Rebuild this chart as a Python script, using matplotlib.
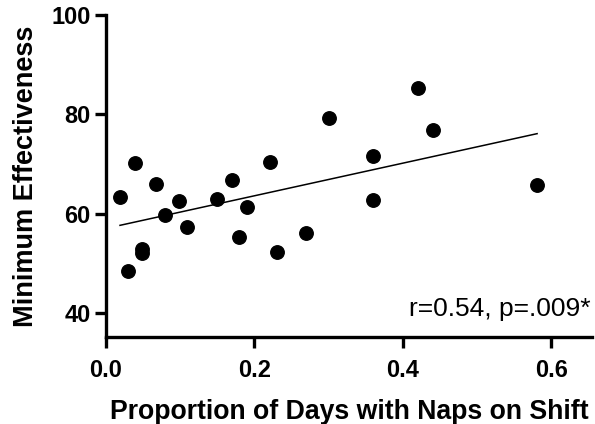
import numpy as np
import matplotlib
matplotlib.use('Agg')
from matplotlib import pyplot as plt

## data
naps = [0.019, 0.030, 0.039, 0.049, 0.049, 0.068, 0.079, 0.099, 0.109, 0.150, 0.170,
        0.180, 0.190, 0.221, 0.230, 0.270, 0.300, 0.360, 0.360, 0.421, 0.441, 0.581]
effectiveness = [63.4, 48.4, 70.3, 53.0, 52.2, 66.0, 59.8, 62.6, 57.3, 63.0, 66.7,
                 55.4, 61.3, 70.5, 52.3, 56.1, 79.2, 71.7, 62.7, 85.3, 76.9, 65.8]
xticks = [0.0, 0.2, 0.4, 0.6]
yticks = [40, 60, 80, 100]
stat_text = 'r=0.54, p=.009*'

plt.rcParams['font.family'] = ['Liberation Sans', 'DejaVu Sans']

fig = plt.figure(figsize=(5.95, 4.24), dpi=100)
ax = fig.add_axes([0.178, 0.205, 0.817, 0.76])

ax.plot(naps, effectiveness, 'o', color='black', markersize=9.7, zorder=3)

## least squares line over the range of the data
slope, icept = np.polyfit(naps, effectiveness, 1)
xfit = np.array([min(naps), max(naps)])
ax.plot(xfit, slope*xfit + icept, '-', color='black', lw=1.1)

ax.set_xlim(0, 0.655)
ax.set_ylim(35.2, 100)
ax.set_xticks(xticks)
ax.set_xticklabels(['{:.1f}'.format(t) for t in xticks])
ax.set_yticks(yticks)

for side in ['top', 'right']:
    ax.spines[side].set_visible(False)
for side in ['left', 'bottom']:
    ax.spines[side].set_linewidth(2.4)
ax.spines['left'].set_bounds(35.2, 100)

ax.tick_params(axis='both', width=2.4, length=8, labelsize=17)
ax.tick_params(axis='x', pad=8)
ax.tick_params(axis='y', pad=3)
for lab in ax.get_xticklabels() + ax.get_yticklabels():
    lab.set_fontweight('bold')

ax.set_xlabel('Proportion of Days with Naps on Shift', fontsize=19.2,
              fontweight='bold', labelpad=12)
ax.set_ylabel('Minimum Effectiveness', fontsize=19.5, fontweight='bold', labelpad=9)

ax.text(0.997, 0.066, stat_text, transform=ax.transAxes, ha='right', va='baseline',
        fontsize=19)

fig.savefig('out.png', dpi=100)
